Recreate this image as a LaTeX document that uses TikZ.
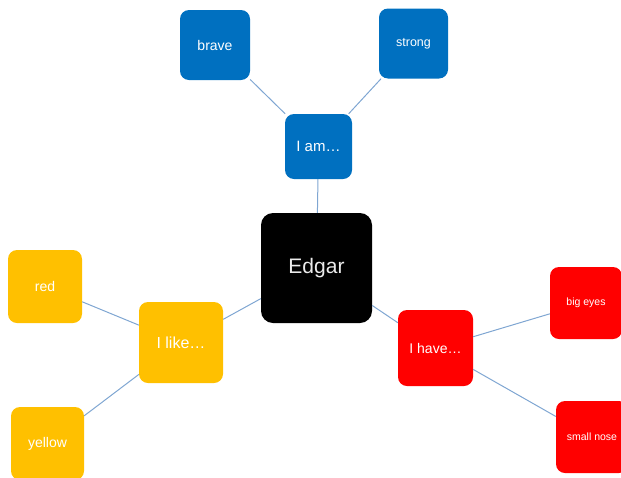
\documentclass[tikz,border=0pt]{standalone}
\usepackage{fontspec}
\setmainfont{Liberation Sans}
\definecolor{topicblue}{HTML}{0070C0}
\definecolor{topicyellow}{HTML}{FFC000}
\definecolor{topicred}{HTML}{FF0000}
\definecolor{linkblue}{HTML}{7FA6D2}
\tikzset{
  box/.style={rounded corners=9pt, inner sep=0pt, text=white, align=center},
  link/.style={draw=linkblue, line width=1pt},
}
\newcommand{\fs}[1]{\fontsize{#1}{#1}\selectfont}
\begin{document}
\begin{tikzpicture}[x=1pt,y=-1pt]
      \useasboundingbox (0,0) rectangle (621,477);
      \node[box, fill=black, text=white!92!black, rounded corners=12pt,
            minimum width=111pt, minimum height=110pt] (edgar) at (316.5,268) {\fs{21}Edgar};
      \node[box, fill=topicblue, minimum width=67pt, minimum height=65pt] (iam) at (318.5,146.5) {\fs{15}I am…};
      \node[box, fill=topicblue, minimum width=70pt, minimum height=70pt] (brave) at (215,45) {\fs{14}brave};
      \node[box, fill=topicblue, minimum width=69pt, minimum height=70pt] (strong) at (413.5,43.5) {\fs{12.5}strong};
      \node[box, fill=topicyellow, minimum width=84pt, minimum height=81pt] (ilike) at (181,342.5) {\fs{16}I like…};
      \node[box, fill=topicyellow, minimum width=74pt, minimum height=73pt] (red) at (45,286.5) {\fs{14}red};
      \node[box, fill=topicyellow, minimum width=73pt, minimum height=73pt] (yellow) at (47.5,443.5) {\fs{14}yellow};
      \node[box, fill=topicred, minimum width=75pt, minimum height=76pt] (ihave) at (435.5,348) {\fs{14}I have…};
      \node[box, fill=topicred, minimum width=72pt, minimum height=72pt] (bigeyes) at (586,303) {\fs{10.5}big eyes};
      \node[box, fill=topicred, minimum width=72pt, minimum height=72pt] (smallnose) at (592,437) {\fs{10.5}small nose};
      \begin{scope}[link]
        \draw (edgar) to (iam);
        \draw (edgar) to (ilike);
        \draw (edgar) to (ihave);
        \draw (iam) to (brave);
        \draw (iam) to (strong);
        \draw (ilike) to (red);
        \draw (ilike) to (yellow);
        \draw (ihave) to (bigeyes);
        \draw (ihave) to (smallnose);
      \end{scope}
    \end{tikzpicture}
\end{document}
